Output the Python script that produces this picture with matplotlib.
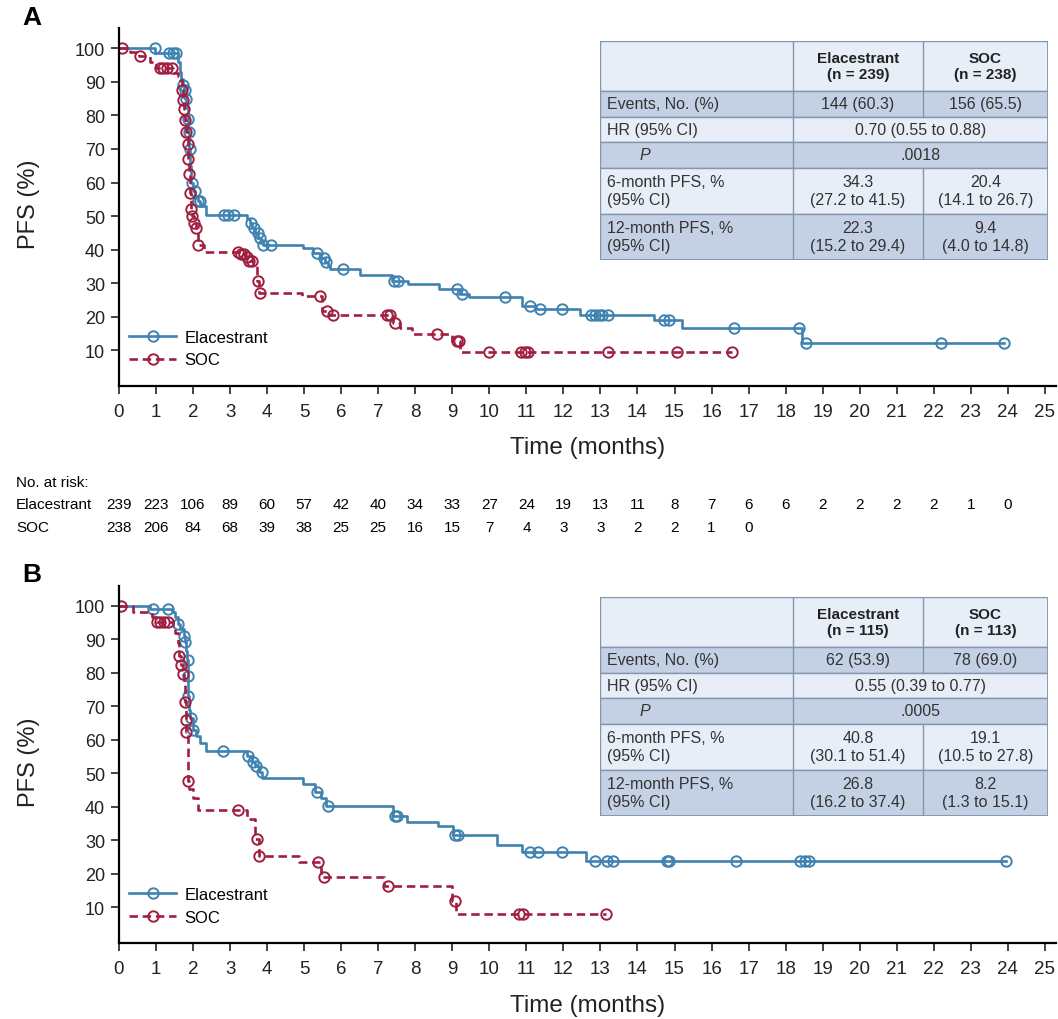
import numpy as np
import matplotlib
matplotlib.use('Agg')
import matplotlib.pyplot as plt
from matplotlib.lines import Line2D
from matplotlib.patches import Rectangle
import matplotlib.transforms as mtransforms

W, H = 1058, 1020
plt.rcParams['font.family'] = ['Liberation Sans', 'DejaVu Sans']
NARROW = ['Liberation Sans Narrow', 'Liberation Sans']

BLUE = '#3f82b0'
RED = '#a01f40'
DASH = (3.2, 1.8)

# ---------------- data: panel A ----------------
elac_a_t = [0, 0.98, 1.60, 1.64, 1.68, 1.72, 1.76, 1.79, 1.82, 1.85, 1.87, 1.89, 1.92, 1.95,
            2.00, 2.06, 2.12, 2.20, 2.35, 3.45, 3.53, 3.60, 3.68, 3.76, 3.83, 3.90, 4.97, 5.25,
            5.42, 5.55, 5.63, 5.70, 6.51, 7.38, 7.80, 8.65, 9.20, 9.45, 10.87, 11.25, 12.45,
            14.45, 15.20, 18.45]
elac_a_s = [100, 98.6, 96, 93, 91, 89, 87.5, 85, 82.5, 79, 75, 70, 65, 60,
            57.5, 55.8, 54.5, 53, 50.2, 49, 48, 46.5, 45, 43.5, 42.3, 41.4, 40.4, 39,
            37.5, 36.2, 35, 34.2, 32.4, 30.6, 29.7, 28.2, 26.8, 25.7, 23.3, 22.2, 20.4,
            19.0, 16.6, 12.2]
elac_a_cens = [0.97, 1.35, 1.45, 1.55, 1.74, 1.78, 1.81, 1.85, 1.88, 1.91, 1.96, 2.05, 2.14, 2.19,
               2.84, 2.93, 3.10, 3.56, 3.65, 3.74, 3.80, 3.90, 4.10, 5.34, 5.53, 5.60, 6.04,
               7.42, 7.52, 9.12, 9.25, 10.42, 11.10, 11.37, 11.95, 12.75, 12.85, 12.95, 13.05,
               13.20, 14.72, 14.85, 16.60, 18.35, 18.55, 22.20, 23.90]

soc_a_t = [0, 0.30, 0.55, 0.85, 1.00, 1.45, 1.58, 1.66, 1.70, 1.73, 1.76, 1.79, 1.82, 1.85,
           1.87, 1.89, 1.91, 1.94, 1.98, 2.03, 2.08, 2.14, 2.30, 3.25, 3.40, 3.52, 3.62, 3.72,
           3.78, 4.95, 5.47, 5.68, 7.40, 7.58, 7.92, 9.00, 9.22]
soc_a_s = [100, 98.8, 97.6, 96.0, 94.3, 92.8, 91.8, 90.5, 87.5, 84.5, 82, 78.5, 75, 71.5,
           67, 62.5, 57, 52, 50, 48, 46.5, 41.5, 39.3, 38.6, 37.8, 36.5, 35.2, 30.5,
           27.0, 26.2, 21.6, 20.4, 18.2, 16.6, 14.8, 12.6, 9.4]
soc_a_cens = [0.07, 0.58, 1.12, 1.20, 1.30, 1.42, 1.70, 1.73, 1.76, 1.79, 1.82, 1.85, 1.87,
              1.89, 1.91, 1.94, 1.98, 2.03, 2.08, 2.14, 3.22, 3.30, 3.38, 3.45, 3.52, 3.60,
              3.74, 3.80, 5.42, 5.61, 5.78, 7.23, 7.32, 7.46, 8.58, 9.12, 9.17, 10.0, 10.86,
              10.95, 11.05, 13.2, 15.06, 16.55]

elac_risk = [239, 223, 106, 89, 60, 57, 42, 40, 34, 33, 27, 24, 19, 13, 11, 8, 7, 6, 6, 2, 2, 2, 2, 1, 0]
soc_risk = [238, 206, 84, 68, 39, 38, 25, 25, 16, 15, 7, 4, 3, 3, 2, 2, 1, 0]

table_a = [['Events, No. (%)', '144 (60.3)', '156 (65.5)'],
           ['HR (95% CI)', '0.70 (0.55 to 0.88)', None],
           ['P', '.0018', None],
           ['6-month PFS, %\n(95% CI)', '34.3\n(27.2 to 41.5)', '20.4\n(14.1 to 26.7)'],
           ['12-month PFS, %\n(95% CI)', '22.3\n(15.2 to 29.4)', '9.4\n(4.0 to 14.8)']]
head_a = ['Elacestrant\n(n = 239)', 'SOC\n(n = 238)']

# ---------------- data: panel B ----------------
elac_b_t = [0, 0.85, 1.42, 1.50, 1.58, 1.66, 1.76, 1.78, 1.80, 1.84, 1.86, 1.87, 1.90, 1.93,
            1.99, 2.08, 2.20, 2.35, 3.45, 3.58, 3.68, 3.78, 3.86, 4.97, 5.30, 5.45, 5.60, 7.40,
            7.77, 8.62, 9.03, 10.20, 10.87, 12.60]
elac_b_s = [100, 99.1, 98, 96.5, 94.5, 93, 91.1, 89.1, 86.5, 83.8, 78.9, 73, 69, 66.4,
            63, 61, 59, 56.7, 55.2, 53.5, 52.2, 50.5, 48.5, 46.8, 44.3, 42.5, 40.3, 37.2,
            35.5, 34.4, 31.6, 28.6, 26.4, 23.8]
elac_b_cens = [0.92, 1.33, 1.60, 1.76, 1.78, 1.85, 1.86, 1.87, 1.94, 2.01, 2.80, 3.49, 3.61,
               3.70, 3.85, 5.34, 5.63, 7.45, 7.50, 9.07, 9.16, 11.10, 11.32, 11.97, 12.84,
               13.18, 13.35, 14.80, 14.85, 16.65, 18.40, 18.52, 18.62, 23.95]

soc_b_t = [0, 0.38, 0.88, 1.00, 1.45, 1.52, 1.58, 1.63, 1.67, 1.72, 1.76, 1.78, 1.80, 1.82,
           1.86, 1.90, 2.00, 2.12, 3.45, 3.68, 3.77, 4.85, 5.45, 7.15, 8.98, 9.10]
soc_b_s = [100, 98, 96.6, 95, 94, 92, 89, 85, 82.3, 79.6, 76.2, 71.2, 66, 62.2,
           47.8, 45.2, 42.5, 39.1, 36.5, 30.4, 25.3, 23.5, 19.0, 16.5, 11.9, 8.0]
soc_b_cens = [0.05, 1.02, 1.12, 1.22, 1.33, 1.63, 1.67, 1.72, 1.78, 1.80, 1.82, 1.86, 3.22,
              3.72, 3.78, 5.38, 5.53, 7.25, 9.07, 10.80, 10.90, 13.15]

table_b = [['Events, No. (%)', '62 (53.9)', '78 (69.0)'],
           ['HR (95% CI)', '0.55 (0.39 to 0.77)', None],
           ['P', '.0005', None],
           ['6-month PFS, %\n(95% CI)', '40.8\n(30.1 to 51.4)', '19.1\n(10.5 to 27.8)'],
           ['12-month PFS, %\n(95% CI)', '26.8\n(16.2 to 37.4)', '8.2\n(1.3 to 15.1)']]
head_b = ['Elacestrant\n(n = 115)', 'SOC\n(n = 113)']


def km(ax, t, s, cens, color, ls):
    t = np.asarray(t, float)
    s = np.asarray(s, float)
    cens = np.asarray(cens, float)
    end = max(t[-1], cens.max())
    x = np.append(t, end)
    y = np.append(s, s[-1])
    if ls == '--':
        ax.step(x, y, where='post', color=color, lw=1.9, ls='--', dashes=DASH)
    else:
        ax.step(x, y, where='post', color=color, lw=1.9)
    # censor marks sit on the curve level at that time
    idx = np.searchsorted(t, cens, side='right') - 1
    ax.plot(cens, s[idx], 'o', ms=7.5, mfc='none', mec=color, mew=1.4, ls='none')


def stats_table(top_px, head, rows):
    x0, x1 = 600, 1048
    cols = [600, 793, 923, 1048]
    heights = [50, 25.5, 25.5, 25.5, 46, 46]
    bottom_px = top_px + sum(heights)
    tax = fig.add_axes([x0 / W, 1 - bottom_px / H, (x1 - x0) / W, (bottom_px - top_px) / H])
    tax.set_xlim(x0, x1)
    tax.set_ylim(bottom_px, top_px)
    tax.axis('off')
    light, dark, edge = '#e7eef7', '#c4d1e5', '#8496ae'
    y = top_px
    # header
    tax.add_patch(Rectangle((x0, y), x1 - x0, heights[0], fc=light, ec=edge, lw=1))
    for c in range(1, 3):
        tax.plot([cols[c], cols[c]], [y, y + heights[0]], color=edge, lw=1)
        tax.text((cols[c] + cols[c + 1]) / 2, y + heights[0] / 2, head[c - 1], ha='center',
                 va='center', fontsize=11, fontweight='bold', linespacing=1.25, color='#222222')
    y += heights[0]
    for i, row in enumerate(rows):
        h = heights[i + 1]
        fc = dark if i % 2 == 0 else light
        tax.add_patch(Rectangle((x0, y), x1 - x0, h, fc=fc, ec=edge, lw=1))
        tax.plot([cols[1], cols[1]], [y, y + h], color=edge, lw=1)
        if row[2] is None:
            tax.text((cols[1] + cols[3]) / 2, y + h / 2, row[1], ha='center', va='center',
                     fontsize=11.5, color='#333333')
        else:
            tax.plot([cols[2], cols[2]], [y, y + h], color=edge, lw=1)
            for c in (1, 2):
                tax.text((cols[c] + cols[c + 1]) / 2, y + h / 2, row[c], ha='center',
                         va='center', fontsize=11.5, linespacing=1.2, color='#333333')
        if row[0] == 'P':
            tax.text(x0 + 40, y + h / 2, 'P', ha='left', va='center', fontsize=11.5,
                     style='italic', color='#333333')
        else:
            tax.text(x0 + 7, y + h / 2, row[0], ha='left', va='center', fontsize=11.5,
                     linespacing=1.2, color='#333333')
        y += h
    tax.add_patch(Rectangle((x0, top_px), x1 - x0, bottom_px - top_px, fc='none', ec=edge, lw=1.3))


def panel(ax, ea, sa):
    km(ax, *ea, BLUE, '-')
    km(ax, *sa, RED, '--')
    ax.set_xlim(0, 25.3)
    ax.set_ylim(-0.7, 106)
    ax.set_xticks(range(0, 26))
    ax.set_yticks(range(10, 101, 10))
    for sp in ('top', 'right'):
        ax.spines[sp].set_visible(False)
    for sp in ('left', 'bottom'):
        ax.spines[sp].set_linewidth(1.6)
    ax.tick_params(axis='both', direction='out', length=6, width=1.2, color='#222222')
    ax.tick_params(axis='y', labelsize=13, pad=4, labelcolor='#222222')
    ax.tick_params(axis='x', labelsize=13.5, pad=6, labelcolor='#222222')
    for lab in ax.get_xticklabels():
        lab.set_family(NARROW)
    ax.set_ylabel('PFS (%)', fontsize=17, color='#222222')
    ax.yaxis.set_label_coords(-0.084, 0.51)
    ax.set_xlabel('Time (months)', fontsize=17.5, family=NARROW, color='#222222', labelpad=12)
    handles = [Line2D([], [], color=BLUE, lw=1.9, marker='o', ms=7.5, mfc='none', mew=1.4),
               Line2D([], [], color=RED, lw=1.9, ls='--', dashes=DASH, marker='o', ms=7.5,
                      mfc='none', mew=1.4)]
    ax.legend(handles, ['Elacestrant', 'SOC'], loc='lower left', bbox_to_anchor=(0.011, 0.052),
              frameon=False, fontsize=12, handlelength=2.8, handletextpad=0.5,
              borderpad=0, borderaxespad=0, labelspacing=0.45)


fig = plt.figure(figsize=(W / 100, H / 100), dpi=100)

axA = fig.add_axes([119 / W, 1 - 387 / H, 937 / W, 357.7 / H])
axB = fig.add_axes([119 / W, 1 - 944.2 / H, 937 / W, 357.6 / H])
panel(axA, (elac_a_t, elac_a_s, elac_a_cens), (soc_a_t, soc_a_s, soc_a_cens))
panel(axB, (elac_b_t, elac_b_s, elac_b_cens), (soc_b_t, soc_b_s, soc_b_cens))

fig.text(22 / W, 1 - 18 / H, 'A', fontsize=19, fontweight='bold', va='center', ha='left')
fig.text(22 / W, 1 - 575 / H, 'B', fontsize=19, fontweight='bold', va='center', ha='left')

# numbers at risk (panel A)
trans = mtransforms.blended_transform_factory(axA.transData, fig.transFigure)
fig.text(16 / W, 1 - 483 / H, 'No. at risk:', fontsize=11, family=NARROW, va='center')
fig.text(16 / W, 1 - 505 / H, 'Elacestrant', fontsize=11, family=NARROW, va='center')
fig.text(16 / W, 1 - 528 / H, 'SOC', fontsize=11, family=NARROW, va='center')
for m, n in enumerate(elac_risk):
    axA.text(m, 1 - 505 / H, str(n), transform=trans, ha='center', va='center', fontsize=11,
             family=NARROW)
for m, n in enumerate(soc_risk):
    axA.text(m, 1 - 528 / H, str(n), transform=trans, ha='center', va='center', fontsize=11,
             family=NARROW)

stats_table(42, head_a, table_a)
stats_table(598, head_b, table_b)

fig.savefig('out.png', dpi=100)
